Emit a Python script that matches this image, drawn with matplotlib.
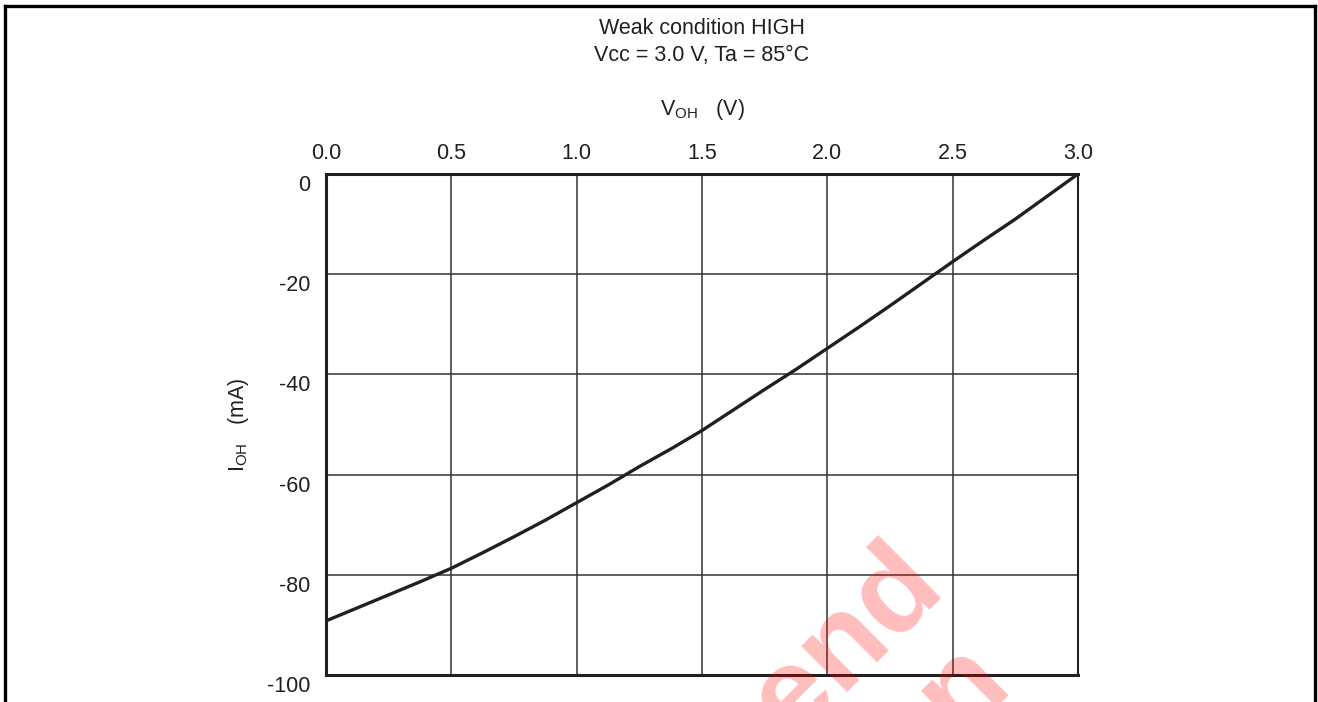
import matplotlib
matplotlib.use("Agg")
import matplotlib.pyplot as plt
import matplotlib.transforms as mtransforms
from matplotlib.lines import Line2D

plt.rcParams['font.family'] = ['Liberation Sans', 'DejaVu Sans']

# curve
v_oh = [0.0, 0.125, 0.25, 0.375, 0.5, 0.625, 0.75, 0.875, 1.0, 1.125, 1.25, 1.375, 1.5,
        1.625, 1.75, 1.875, 2.0, 2.125, 2.25, 2.375, 2.5, 2.625, 2.75, 2.875, 3.0]
i_oh = [-89.2, -86.6, -84.0, -81.4, -78.7, -75.6, -72.4, -69.1, -65.6, -62.1, -58.4, -54.9, -51.2,
        -47.1, -43.0, -39.0, -34.8, -30.6, -26.3, -21.9, -17.5, -13.2, -9.0, -4.5, 0.0]

x_ticks = [0.0, 0.5, 1.0, 1.5, 2.0, 2.5, 3.0]
x_labels = ['0.0', '0.5', '1.0', '1.5', '2.0', '2.5', '3.0']
y_ticks = [0, -20, -40, -60, -80, -100]
y_labels = ['0', '-20', '-40', '-60', '-80', '-100']

W, H = 1318, 702
fs = 15.5
ink = '#231f20'
fig = plt.figure(figsize=(W / 100, H / 100), dpi=100)
ax = fig.add_axes([326 / W, 1 - 675 / H, (1078 - 326) / W, (675 - 174) / H])

ax.plot(v_oh, i_oh, color=ink, lw=2.4, solid_capstyle='round', solid_joinstyle='round', zorder=3)

ax.set_xlim(0, 3)
ax.set_ylim(-100, 0)
ax.xaxis.tick_top()
ax.xaxis.set_label_position('top')
ax.set_xticks(x_ticks)
ax.set_xticklabels(x_labels)
ax.set_yticks(y_ticks)
ax.set_yticklabels(y_labels)
ax.tick_params(length=0, labelsize=fs, colors=ink)
ax.tick_params(axis='x', pad=7)
ax.tick_params(axis='y', pad=11)
# y labels sit a bit below their grid lines
off = mtransforms.ScaledTranslation(0, -9 / 100, fig.dpi_scale_trans)
for lab in ax.get_yticklabels():
    lab.set_transform(lab.get_transform() + off)

ax.grid(True, color='#333333', lw=1.1)
ax.set_axisbelow(True)
for side in ['left', 'top', 'bottom']:
    ax.spines[side].set_linewidth(2.2)
    ax.spines[side].set_color(ink)
ax.spines['right'].set_linewidth(1.5)
ax.spines['right'].set_color(ink)

ax.set_xlabel('V$_{\\mathregular{OH}}$   (V)', fontsize=fs, labelpad=20, color=ink)
ax.set_ylabel('I$_{\\mathregular{OH}}$   (mA)', fontsize=fs, labelpad=12, color=ink)

fig.text(702 / W, 1 - 28 / H, 'Weak condition HIGH', ha='center', va='center', fontsize=fs, color=ink)
fig.text(702 / W, 1 - 56 / H, 'Vcc = 3.0 V, Ta = 85°C', ha='center', va='center', fontsize=fs, color=ink)

# outer frame (open at the bottom)
fx0, fx1, fy0 = 5 / W, 1315 / W, 1 - 6 / H
for xs, ys in [([fx0, fx0], [0, fy0]), ([fx0, fx1], [fy0, fy0]), ([fx1, fx1], [fy0, 0])]:
    fig.add_artist(Line2D(xs, ys, color='black', lw=2.4, transform=fig.transFigure))

# watermark, cut by the bottom edge as in the source
fig.text(948 / W, 1 - 592 / H, 'Not Recommend', ha='right', va='baseline', rotation=45,
         rotation_mode='anchor', fontsize=88, fontweight='bold', color='red', alpha=0.26, zorder=10)
fig.text(1015 / W, 1 - 690 / H, 'for New Design', ha='right', va='baseline', rotation=45,
         rotation_mode='anchor', fontsize=88, fontweight='bold', color='red', alpha=0.26, zorder=10)

fig.savefig('out.png', dpi=100)
